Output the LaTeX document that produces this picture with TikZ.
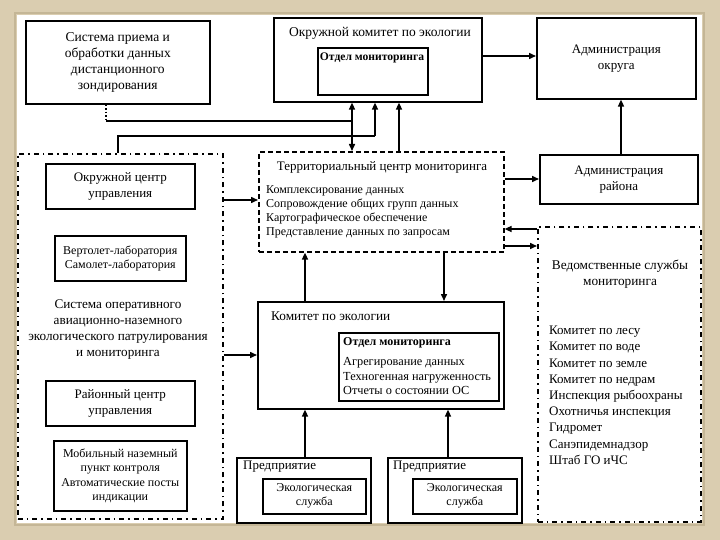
\documentclass[tikz,border=0pt]{standalone}
\usepackage{fontspec}
\setmainfont{Liberation Serif}
\usetikzlibrary{arrows.meta}
\definecolor{frame}{RGB}{218,205,176}
\definecolor{frameedge}{RGB}{196,182,150}
\begin{document}
\begin{tikzpicture}[x=1pt,y=-1pt,
  box/.style={draw,line width=1.6pt,inner sep=0pt,anchor=north west,align=center},
  dbox/.style={draw,line width=1.6pt,dash pattern=on 5pt off 3pt,inner sep=0pt,anchor=north west},
  ddbox/.style={draw,line width=1.6pt,dash pattern=on 5pt off 4pt on 1.5pt off 4pt,inner sep=0pt,anchor=north west},
  con/.style={line width=1.5pt},
  arr/.style={line width=1.5pt,-{Triangle[length=7pt,width=6pt]}},
  darr/.style={line width=1.5pt,{Triangle[length=7pt,width=6pt]}-{Triangle[length=7pt,width=6pt]}},
  fA/.style={font=\fontsize{13.5}{16}\selectfont},
  fT/.style={font=\fontsize{13}{16}\selectfont},
  fB/.style={font=\fontsize{13}{15}\selectfont},
  fC/.style={font=\fontsize{12}{14}\selectfont},
  txt/.style={inner sep=0pt,align=left}
]
% frame
\useasboundingbox (0,0) rectangle (720,540);
\fill[frame] (0,0) rectangle (720,540);
\draw[frameedge,line width=2pt] (15,13) rectangle (704,525);
\fill[white] (17,15) rectangle (702,523);

% top row
\node[box,fA,minimum width=184pt,minimum height=83pt] (sys) at (25,20)
  {Система приема и\\обработки данных\\дистанционного\\зондирования};
\node[box,minimum width=208pt,minimum height=84pt] (okr) at (273,17) {};
\node[fA,inner sep=0pt] (okrt) at (380,33) {Окружной комитет по экологии};
\node[box,minimum width=110pt,minimum height=47pt] (otd1) at (317,47) {};
\node[inner sep=0pt,font=\fontsize{11.6}{14}\selectfont\bfseries] (otd1t) at (372,58) {Отдел мониторинга};
\node[box,fT,minimum width=159pt,minimum height=81pt] (admo) at (536,17)
  {Администрация\\округа};

% territorial centre
\node[dbox,minimum width=245pt,minimum height=100pt] (terr) at (258,151) {};
\node[fT,inner sep=0pt] (terrt) at (382,167) {Территориальный центр мониторинга};
\node[txt,fC,anchor=north west] (terri) at (266,185)
  {Комплексирование данных\\Сопровождение общих групп данных\\Картографическое обеспечение\\Представление данных по запросам};

\node[box,fT,minimum width=158pt,minimum height=49pt] (admr) at (539,154)
  {Администрация\\района};

% left dash-dot block
\node[ddbox,minimum width=205pt,minimum height=365pt] (left) at (17,153) {};
\node[box,fT,minimum width=149pt,minimum height=45pt] (okrc) at (45,163)
  {Окружной центр\\управления};
\node[box,fC,minimum width=131pt,minimum height=45pt] (vert) at (54,235)
  {Вертолет-лаборатория\\Самолет-лаборатория};
\node[align=center,inner sep=0pt,font=\fontsize{13.2}{16}\selectfont] (patr) at (118,330)
  {Система оперативного\\авиационно-наземного\\экологического патрулирования\\и мониторинга};
\node[box,fT,minimum width=149pt,minimum height=45pt] (rc) at (45,380)
  {Районный центр\\управления};
\node[box,minimum width=133pt,minimum height=70pt,font=\fontsize{12}{14.6}\selectfont] (mob) at (53,440)
  {Мобильный наземный\\пункт контроля\\Автоматические посты\\индикации};

% departmental services
\node[ddbox,minimum width=163pt,minimum height=295pt] (ved) at (537,226) {};
\node[align=center,inner sep=0pt,font=\fontsize{13.3}{16}\selectfont] (vedt) at (620,274) {Ведомственные службы\\мониторинга};
\node[txt,anchor=north west,font=\fontsize{13}{16.2}\selectfont] (vedi) at (549,326)
  {Комитет по лесу\\Комитет по воде\\Комитет по земле\\Комитет по недрам\\Инспекция рыбоохраны\\Охотничья инспекция\\Гидромет\\Санэпидемнадзор\\Штаб ГО иЧС};

% committee
\node[box,minimum width=246pt,minimum height=107pt] (kom) at (257,301) {};
\node[inner sep=0pt,anchor=west,font=\fontsize{13.3}{16}\selectfont] (komt) at (271,316) {Комитет по экологии};
\node[box,minimum width=160pt,minimum height=68pt] (otd2) at (338,332) {};
\node[txt,anchor=north west,font=\fontsize{12.3}{14.5}\selectfont] (otd2t) at (343,337)
  {{\fontsize{12}{14}\selectfont\bfseries Отдел мониторинга}\\[6pt]
   Агрегирование данных\\Техногенная нагруженность\\Отчеты о состоянии ОС};

% enterprises
\node[box,minimum width=134pt,minimum height=65pt] (ent1) at (236,457) {};
\node[fB,inner sep=0pt,anchor=west] (ent1t) at (243,467) {Предприятие};
\node[box,fC,minimum width=103pt,minimum height=35pt] (eco1) at (262,478) {Экологическая\\служба};
\node[box,minimum width=134pt,minimum height=65pt] (ent2) at (387,457) {};
\node[fB,inner sep=0pt,anchor=west] (ent2t) at (393,467) {Предприятие};
\node[box,fC,minimum width=104pt,minimum height=35pt] (eco2) at (412,478) {Экологическая\\служба};

% helper positions
\coordinate (x106) at (106,0);
\coordinate (x118) at (118,0);
\coordinate (x352) at (352,0);
\coordinate (x375) at (375,0);
\coordinate (x399) at (399,0);
\coordinate (x305) at (305,0);
\coordinate (x444) at (444,0);
\coordinate (x448) at (448,0);
\coordinate (x621) at (621,0);
\coordinate (y56) at (0,56);
\coordinate (y179) at (0,179);
\coordinate (y200) at (0,200);
\coordinate (y229) at (0,229);
\coordinate (y246) at (0,246);
\coordinate (y355) at (0,355);
\coordinate (j1) at (106,121);
\coordinate (j2) at (352,121);
\coordinate (j3) at (118,136);
\coordinate (j4) at (375,136);

% connectors
\draw[line width=1.5pt,dotted] (sys.south -| x106) -- (j1);
\draw[con] (j1) -- (j2);
\draw[darr] (terr.north -| x352) -- (okr.south -| x352);
\draw[con] (left.north -| x118) -- (j3) -- (j4);
\draw[arr] (j4) -- (okr.south -| x375);
\draw[arr] (terr.north -| x399) -- (okr.south -| x399);
\draw[arr] (okr.east |- y56) -- (admo.west |- y56);
\draw[arr] (admr.north -| x621) -- (admo.south -| x621);
\draw[arr] (terr.east |- y179) -- (admr.west |- y179);
\draw[arr] (ved.west |- y229) -- (terr.east |- y229);
\draw[arr] (terr.east |- y246) -- (ved.west |- y246);
\draw[arr] (left.east |- y200) -- (terr.west |- y200);
\draw[arr] (left.east |- y355) -- (kom.west |- y355);
\draw[arr] (kom.north -| x305) -- (terr.south -| x305);
\draw[arr] (terr.south -| x444) -- (kom.north -| x444);
\draw[arr] (ent1.north -| x305) -- (kom.south -| x305);
\draw[arr] (ent2.north -| x448) -- (kom.south -| x448);
\end{tikzpicture}
\end{document}
